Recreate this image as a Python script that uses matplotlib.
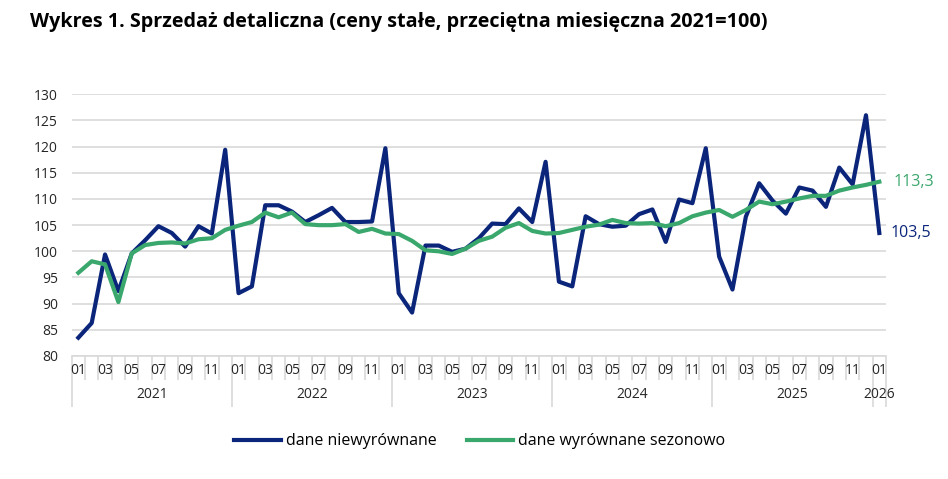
import matplotlib.pyplot as plt

# miesiące 2021-01 .. 2026-01
years = [2021, 2022, 2023, 2024, 2025, 2026]
month_labels = ["01", "03", "05", "07", "09", "11"]

# dane niewyrównane
raw = [83.5, 86.3, 99.4, 92.4, 99.6, 102.1, 104.8, 103.5, 100.9, 104.8, 103.4, 119.4,
       92.0, 93.3, 108.8, 108.8, 107.6, 105.6, 106.9, 108.3, 105.6, 105.6, 105.7, 119.7,
       92.0, 88.3, 101.1, 101.1, 99.9, 100.5, 102.5, 105.3, 105.2, 108.2, 105.6, 117.1,
       94.2, 93.3, 106.7, 105.2, 104.7, 104.9, 107.1, 108.0, 101.8, 109.9, 109.2, 119.7,
       99.0, 92.7, 106.6, 113.0, 109.7, 107.2, 112.2, 111.6, 108.5, 116.0, 112.8, 126.0,
       103.5]

# dane wyrównane sezonowo
sa = [95.9, 98.1, 97.5, 90.3, 99.6, 101.2, 101.6, 101.7, 101.5, 102.3, 102.5, 104.1,
      104.9, 105.6, 107.4, 106.5, 107.4, 105.2, 105.0, 105.0, 105.2, 103.7, 104.3, 103.4,
      103.3, 102.0, 100.2, 100.0, 99.5, 100.5, 102.0, 102.8, 104.5, 105.4, 103.9, 103.4,
      103.5, 104.1, 104.7, 105.1, 106.0, 105.4, 105.3, 105.4, 104.8, 105.4, 106.7, 107.4,
      107.9, 106.6, 107.9, 109.5, 109.0, 109.5, 110.1, 110.6, 110.6, 111.6, 112.2, 112.7,
      113.3]

BLUE = "#0a257a"
GREEN = "#3aa76d"
GRID = "#d9d9d9"
TXT = "#262626"

plt.rcParams['font.family'] = ['Open Sans', 'DejaVu Sans']

fig = plt.figure(figsize=(9.48, 4.79), dpi=100)
ax = fig.add_axes([0.0756, 0.2568, 0.8590, 0.5463])

xs = list(range(len(raw)))
ax.plot(xs, raw, color=BLUE, lw=3.0, label="dane niewyrównane", zorder=3)
ax.plot(xs, sa, color=GREEN, lw=3.0, label="dane wyrównane sezonowo", zorder=4)

ax.set_xlim(-0.5, len(raw) - 0.5)
ax.set_ylim(80, 130)
ax.set_yticks(range(80, 131, 5))
ax.yaxis.grid(True, color=GRID, lw=1.2)
ax.set_axisbelow(True)
for s in ["left", "right", "top"]:
    ax.spines[s].set_visible(False)
ax.spines["bottom"].set_color(GRID)
ax.spines["bottom"].set_linewidth(1.2)
ax.tick_params(axis="y", length=0, pad=10, labelsize=10, labelcolor=TXT)

# granice kategorii i lat
bounds = [i - 0.5 for i in range(len(raw) + 1)]
year_bounds = [-0.5] + [12 * k - 0.5 for k in range(1, len(years))] + [len(raw) - 0.5]
ax.set_xticks(year_bounds)
ax.set_xticklabels([])
ax.set_xticks(bounds, minor=True)
ax.tick_params(axis="x", which="major", length=37, width=1.2, color=GRID)
ax.tick_params(axis="x", which="minor", length=17.5, width=1.2, color=GRID)

trans = ax.get_xaxis_transform()
for i in xs:
    if i % 2 == 0:
        ax.text(i, -0.056, month_labels[(i % 12) // 2], transform=trans,
                ha="center", va="center", fontsize=10, color=TXT)
for k, y in enumerate(years):
    start = 12 * k
    end = min(12 * k + 11, len(raw) - 1)
    ax.text((start + end) / 2, -0.149, str(y), transform=trans,
            ha="center", va="center", fontsize=10, color=TXT)

# etykiety ostatnich wartości
ax.annotate(f"{sa[-1]:.1f}".replace(".", ","), (xs[-1], sa[-1]), xytext=(10, 0),
            textcoords="offset points", va="center", ha="left", fontsize=11.5,
            color=GREEN, annotation_clip=False)
ax.annotate(f"{raw[-1]:.1f}".replace(".", ","), (xs[-1], raw[-1]), xytext=(8, 0),
            textcoords="offset points", va="center", ha="left", fontsize=11.5,
            color=BLUE, annotation_clip=False)

fig.text(30 / 948, 1 - 22 / 479,
         "Wykres 1. Sprzedaż detaliczna (ceny stałe, przeciętna miesięczna 2021=100)",
         ha="left", va="center", fontsize=14.2, fontweight="bold", color="black")

fig.legend(loc="center", bbox_to_anchor=(0.506, 0.079), ncol=2, frameon=False,
           fontsize=11.5, handlelength=2.9, handletextpad=0.3, columnspacing=1.9)

fig.savefig("out.png", dpi=100)
